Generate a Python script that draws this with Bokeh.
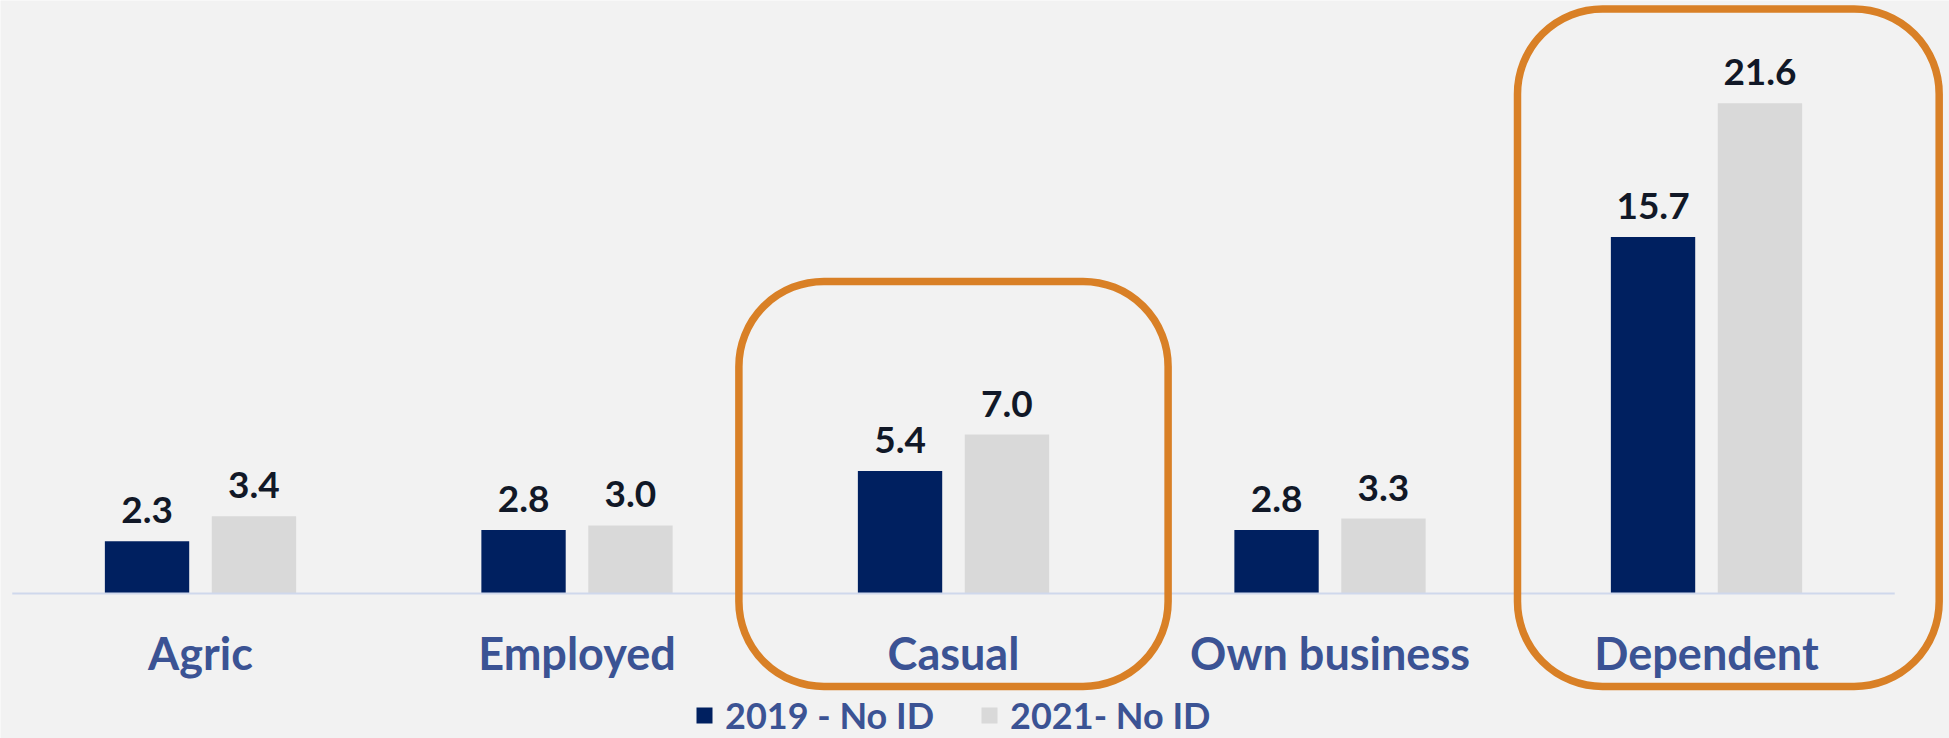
from bokeh.plotting import figure
from bokeh.models import ColumnDataSource, Range1d, BoxAnnotation, Legend, LegendItem
from bokeh.core.properties import value
from bokeh.embed import file_html
from bokeh.resources import INLINE

# ---- data ----
categories = ["Agric", "Employed", "Casual", "Own business", "Dependent"]
no_id_2019 = [2.3, 2.8, 5.4, 2.8, 15.7]
no_id_2021 = [3.4, 3.0, 7.0, 3.3, 21.6]
series_names = ["2019 - No ID", "2021- No ID"]
highlighted = ["Casual", "Dependent"]

# ---- style ----
W, H = 1949, 738
BG = "#f2f2f2"
NAVY = "#002060"
GREY = "#d9d9d9"
ORANGE = "#d98026"
LABEL_BLUE = "#3b5394"
VALUE_COLOR = "#111827"
FONT = "Lato"

PX = 22.7                      # pixels per data unit
BASE_Y = 593                   # baseline pixel row from top
Y1 = BASE_Y / PX
Y0 = -(H - BASE_Y) / PX
CAT_PX = 376.5                 # pixels per category
FIRST_X = 200
X0 = -FIRST_X / CAT_PX
X1 = (W - FIRST_X) / CAT_PX
OFFSET = 0.142
BAR_W = 0.224

idx = list(range(len(categories)))
src = ColumnDataSource(dict(
    x19=[i - OFFSET for i in idx], x21=[i + OFFSET for i in idx],
    v19=no_id_2019, v21=no_id_2021,
    t19=[f"{v:.1f}" for v in no_id_2019], t21=[f"{v:.1f}" for v in no_id_2021],
    l19=[v + 31 / PX for v in no_id_2019], l21=[v + 31 / PX for v in no_id_2021],
    xc=idx, cat=categories, yc=[-59 / PX] * len(idx),
))

p = figure(width=W, height=H, output_backend="svg", toolbar_location=None,
           x_range=Range1d(X0, X1), y_range=Range1d(Y0, Y1),
           x_axis_location=None, y_axis_location=None, min_border=0,
           background_fill_color=BG, border_fill_color=BG, outline_line_color=None)
p.grid.visible = False

r19 = p.vbar(x="x19", top="v19", bottom=0, width=BAR_W, source=src,
             fill_color=NAVY, line_color=None)
r21 = p.vbar(x="x21", top="v21", bottom=0, width=BAR_W, source=src,
             fill_color=GREY, line_color=None)

# baseline
p.segment(x0=[-0.5], y0=[0], x1=[len(categories) - 0.5], y1=[0],
          line_color="#cfd8ec", line_width=2)

# value labels
for xcol, ycol, tcol in (("x19", "l19", "t19"), ("x21", "l21", "t21")):
    p.text(x=xcol, y=ycol, text=tcol, source=src, text_align="center",
           text_baseline="alphabetic", text_font=value(FONT), text_font_style="bold",
           text_font_size="37px", text_color=VALUE_COLOR)

# category labels
p.text(x="xc", y="yc", text="cat", source=src, text_align="center",
       text_baseline="alphabetic", text_font=value(FONT), text_font_style="bold",
       text_font_size="45px", text_color=LABEL_BLUE)

# highlight boxes
box_style = {"Casual": (0.0, 0.57, 13.75), "Dependent": (0.058, 0.56, 25.75)}
for cat in highlighted:
    i = categories.index(cat)
    shift, half, top = box_style[cat]
    p.add_layout(BoxAnnotation(left=i + shift - half, right=i + shift + half,
                               top=top, bottom=-4.1, fill_alpha=0,
                               line_color=ORANGE, line_alpha=1.0, line_width=7.5,
                               border_radius=85))

legend = Legend(items=[LegendItem(label=series_names[0], renderers=[r19]),
                       LegendItem(label=series_names[1], renderers=[r21])],
                orientation="horizontal", location=(694, 1),
                glyph_width=20, glyph_height=20, label_standoff=11, spacing=45,
                padding=0, margin=0, background_fill_alpha=0, border_line_alpha=0,
                label_text_font=FONT, label_text_font_style="bold",
                label_text_font_size="36px", label_text_color=LABEL_BLUE)
p.add_layout(legend)

open("out.html", "w").write(file_html(p, INLINE))
